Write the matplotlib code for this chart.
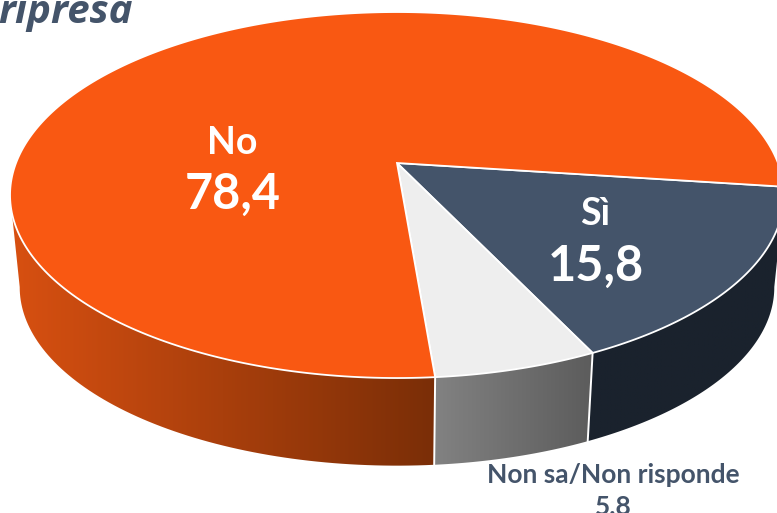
import numpy as np
import matplotlib
matplotlib.use('Agg')
import matplotlib.pyplot as plt
from matplotlib.colors import to_rgb
from matplotlib.patches import Polygon

plt.rcParams['font.family'] = ['Lato', 'DejaVu Sans']

labels = ['Sì', 'Non sa/Non risponde', 'No']
values = [15.8, 5.8, 78.4]
value_text = ['15,8', '5.8', '78,4']

top_colors = ['#44546A', '#EEEEEE', '#F95812']
side_left = ['#1A222D', '#828282', '#D85011']
side_right = ['#1A222D', '#5C5C5C', '#7A2E07']

W, H = 777, 513
START = -7.5     # where the first slice starts, going clockwise
TILT = 0.175     # perspective of the disc
CX, CY = 397, 163
RX, RY = 381, 177.4
DEPTH = 93
SHRINK = 0.975   # lower rim is a bit smaller


def rim(t, lower=False):
    t = np.radians(t)
    w = 1 + TILT * np.sin(t)
    x = np.cos(t) / w
    y = np.sin(t) / w
    if lower:
        return CX + SHRINK * RX * x, CY + DEPTH - SHRINK * RY * y
    return CX + RX * x, CY - RY * y


def side(t0, t1, c0, c1):
    t = np.linspace(t0, t1, 80)
    xt, yt = rim(t)
    xb, yb = rim(t, True)
    xy = np.r_[np.c_[xt, yt], np.c_[xb, yb][::-1]]
    c0 = np.array(to_rgb(c0))
    c1 = np.array(to_rgb(c1))
    f = np.linspace(0, 1, 256)[None, :, None]
    img = c0 + (c1 - c0) * f
    ext = (xy[:, 0].min(), xy[:, 0].max(), xy[:, 1].max(), xy[:, 1].min())
    im = ax.imshow(img, extent=ext, aspect='auto', zorder=1, interpolation='bilinear')
    p = Polygon(xy, closed=True, facecolor='none', edgecolor='none')
    ax.add_patch(p)
    im.set_clip_path(p)


fig = plt.figure(figsize=(W / 100, H / 100), dpi=100)
ax = fig.add_axes([0, 0, 1, 1])
ax.axis('off')

edges = START - np.cumsum([0] + values) * 3.6

# only the front of the wall shows
for i in range(3):
    side(min(edges[i], -10), max(edges[i + 1], -170), side_left[i], side_right[i])

for t in edges[1:3]:
    xt, yt = rim(t)
    xb, yb = rim(t, True)
    ax.plot([xt, xb], [yt, yb], color='white', lw=1.4, zorder=2)

for i in range(3):
    t = np.linspace(edges[i], edges[i + 1], 300)
    xs, ys = rim(t)
    ax.fill(np.r_[CX, xs], np.r_[CY, ys], facecolor=top_colors[i], edgecolor='white', lw=1.3, zorder=3, joinstyle='miter')

ax.text(232, 143, labels[2], color='white', fontsize=27, fontweight='bold', ha='center', va='center', zorder=4)
ax.text(233, 194, value_text[2], color='white', fontsize=35, fontweight='bold', ha='center', va='center', zorder=4)
ax.text(595, 214, labels[0], color='white', fontsize=27, fontweight='bold', ha='center', va='center', zorder=4)
ax.text(596, 266, value_text[0], color='white', fontsize=35, fontweight='bold', ha='center', va='center', zorder=4)
ax.text(613, 475, labels[1], color='#44546A', fontsize=19, fontweight='bold', ha='center', va='center', zorder=4)
ax.text(613, 507, value_text[1], color='#44546A', fontsize=19, fontweight='bold', ha='center', va='center', zorder=4)

ax.text(133, 23, 'ripresa', color='#44546A', fontsize=29, fontweight='bold', style='italic', family='Open Sans', ha='right', va='baseline', zorder=4)

ax.set_xlim(0, W)
ax.set_ylim(H, 0)
fig.savefig('out.png', dpi=100)
